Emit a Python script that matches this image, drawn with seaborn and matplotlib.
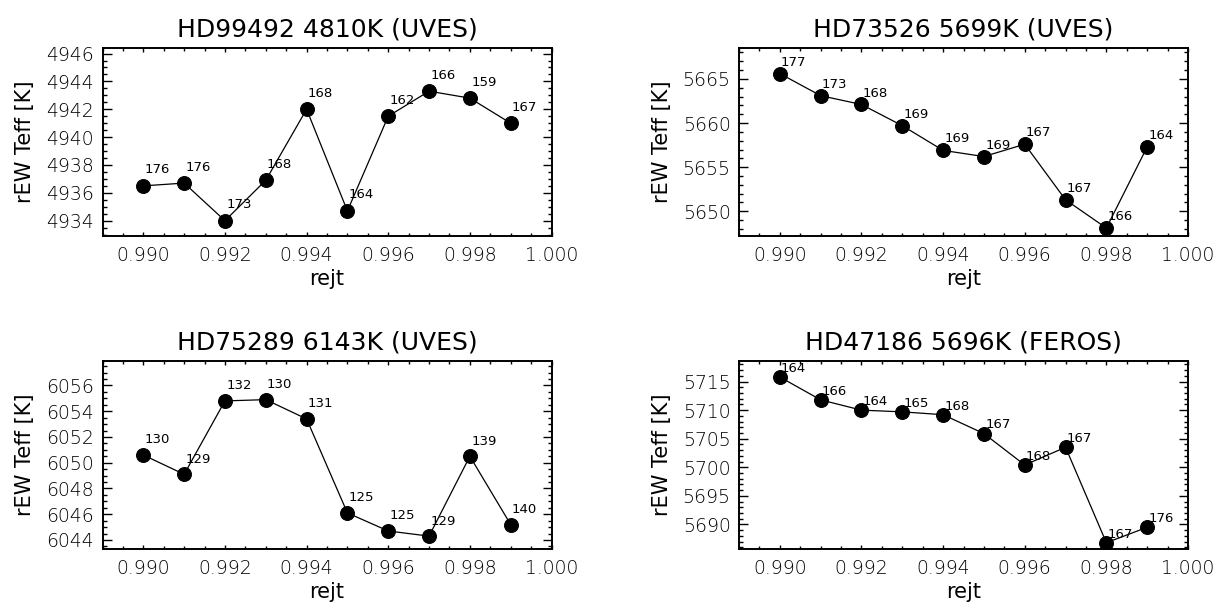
import matplotlib
matplotlib.use("Agg")
import matplotlib.pyplot as plt
from matplotlib.ticker import MultipleLocator, FormatStrFormatter
import seaborn as sns
import pandas as pd

# rejt threshold values (shared by all stars)
rejt = [0.990, 0.991, 0.992, 0.993, 0.994, 0.995, 0.996, 0.997, 0.998, 0.999]

# Star titles
titles = [
    "HD99492 4810K (UVES)",
    "HD73526 5699K (UVES)",
    "HD75289 6143K (UVES)",
    "HD47186 5696K (FEROS)",
]

# rEW Teff [K] for each star
teff_hd99492 = [4936.5, 4936.7, 4934.0, 4936.9, 4942.0, 4934.7, 4941.5, 4943.3, 4942.8, 4941.0]
teff_hd73526 = [5665.6, 5663.1, 5662.1, 5659.7, 5656.9, 5656.2, 5657.6, 5651.3, 5648.1, 5657.3]
teff_hd75289 = [6050.6, 6049.1, 6054.8, 6054.9, 6053.4, 6046.1, 6044.7, 6044.3, 6050.5, 6045.2]
teff_hd47186 = [5715.8, 5711.8, 5710.0, 5709.7, 5709.2, 5705.9, 5700.4, 5703.5, 5686.8, 5689.5]

# Number of lines used at each rejt
nlines_hd99492 = [176, 176, 173, 168, 168, 164, 162, 166, 159, 167]
nlines_hd73526 = [177, 173, 168, 169, 169, 169, 167, 167, 166, 164]
nlines_hd75289 = [130, 129, 132, 130, 131, 125, 125, 129, 139, 140]
nlines_hd47186 = [164, 166, 164, 165, 168, 167, 168, 167, 167, 176]

teffs = [teff_hd99492, teff_hd73526, teff_hd75289, teff_hd47186]
nlines = [nlines_hd99492, nlines_hd73526, nlines_hd75289, nlines_hd47186]

# axis ranges and tick spacing per panel
ylims = [(4932.9, 4946.4), (5647.2, 5668.5), (6043.3, 6057.9), (5685.7, 5718.6)]
ymajor = [2, 5, 2, 5]
yminor = [0.5, 1, 0.5, 1]

sns.set_style("ticks")
plt.rcParams["font.family"] = ["DejaVu Sans"]
plt.rcParams["font.weight"] = "light"
plt.rcParams["text.color"] = "black"
plt.rcParams["axes.labelcolor"] = "black"
plt.rcParams["xtick.color"] = "black"
plt.rcParams["ytick.color"] = "black"
plt.rcParams["xtick.labelcolor"] = "black"
plt.rcParams["ytick.labelcolor"] = "black"

fig = plt.figure(figsize=(12.2, 6.08), dpi=100)
ax_w, ax_h = 449 / 1220, 188 / 608
lefts = [102.5 / 1220, 739 / 1220]
bottoms = [(608 - 236) / 608, (608 - 549) / 608]
positions = [
    (lefts[0], bottoms[0]),
    (lefts[1], bottoms[0]),
    (lefts[0], bottoms[1]),
    (lefts[1], bottoms[1]),
]

for i in range(4):
    ax = fig.add_axes([positions[i][0], positions[i][1], ax_w, ax_h])
    df = pd.DataFrame({"rejt": rejt, "teff": teffs[i]})
    sns.lineplot(data=df, x="rejt", y="teff", ax=ax, color="black",
                 linewidth=0.9, marker="o", markersize=10,
                 markerfacecolor="black", markeredgecolor="black")
    for x, y, n in zip(rejt, teffs[i], nlines[i]):
        ax.text(x + 0.00003, y + 0.9, str(n), fontsize=9.5, ha="left",
                va="baseline", color="black", fontweight="normal")

    ax.set_xlim(0.989, 1.000)
    ax.set_ylim(*ylims[i])
    ax.xaxis.set_major_locator(MultipleLocator(0.002))
    ax.xaxis.set_minor_locator(MultipleLocator(0.0005))
    ax.xaxis.set_major_formatter(FormatStrFormatter("%.3f"))
    ax.yaxis.set_major_locator(MultipleLocator(ymajor[i]))
    ax.yaxis.set_minor_locator(MultipleLocator(yminor[i]))
    ax.yaxis.set_major_formatter(FormatStrFormatter("%d"))

    ax.tick_params(axis="both", which="both", direction="in",
                   top=True, right=True, color="black", width=1.0)
    ax.tick_params(axis="x", which="major", length=2.8, pad=7, labelsize=13.5)
    ax.tick_params(axis="x", which="minor", length=2.2)
    ax.tick_params(axis="y", which="major", length=6.5, pad=6, labelsize=13.5)
    ax.tick_params(axis="y", which="minor", length=3.2)
    for sp in ax.spines.values():
        sp.set_linewidth(1.4)
        sp.set_color("black")

    ax.set_title(titles[i], fontsize=18, pad=8, color="black")
    ax.set_xlabel("rejt", fontsize=15, labelpad=3)
    ax.set_ylabel("rEW Teff [K]", fontsize=15, labelpad=8)

fig.savefig("out.png", dpi=100)
